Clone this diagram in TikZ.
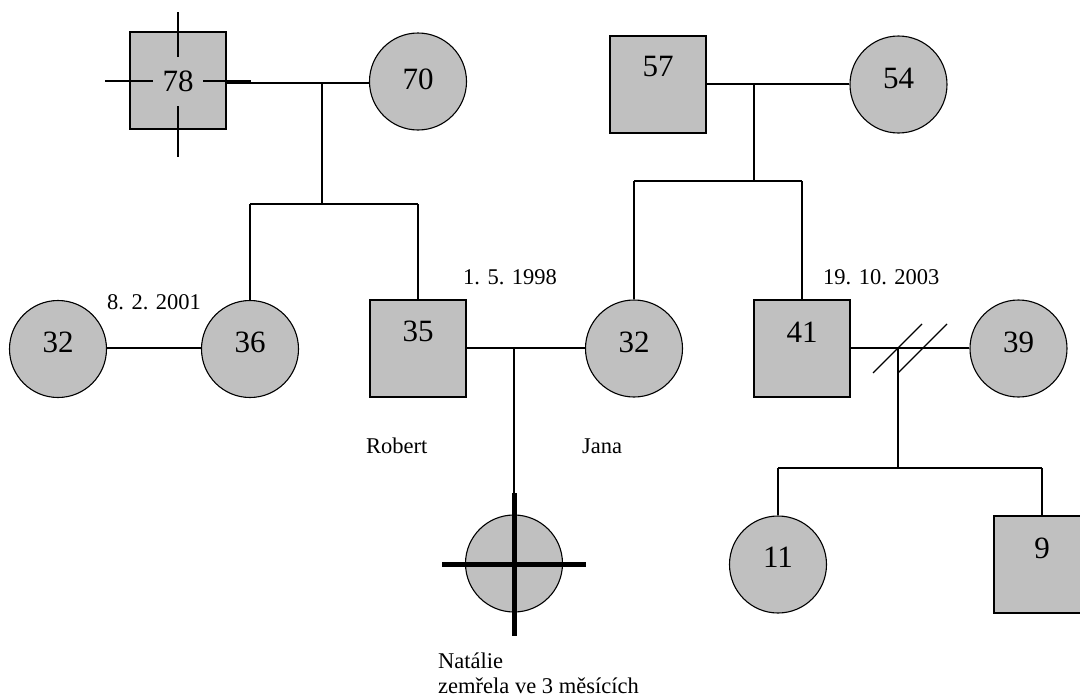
\documentclass[tikz,border=0pt]{standalone}
\usepackage{fontspec}
\setmainfont{Liberation Serif}
\definecolor{fillgray}{HTML}{C0C0C0}
\tikzset{
  sq/.style={draw=black, fill=fillgray, line width=1.1pt, minimum width=96pt, minimum height=97pt, inner sep=0pt},
  ci/.style={draw=black, fill=fillgray, circle, line width=1.1pt, minimum size=97pt, inner sep=0pt},
  num/.style={inner sep=0pt, font=\fontsize{31}{31}\selectfont},
  lbl/.style={inner sep=0pt, font=\fontsize{22.5}{25}\selectfont},
  ln/.style={line width=1.1pt},
  thick cross/.style={line width=5pt}
}
\begin{document}
\begin{tikzpicture}[x=1pt,y=-1pt]
\useasboundingbox (0,0) rectangle (1080,699);
\fill[white] (0,0) rectangle (1080,699);

% ---------- generation 1 ----------
\node[sq] (s78) at (178,80.5) {};
\draw[ln] (178,12) -- (178,157);
\draw[ln] (105,81) -- (251,81);
\node[num, fill=fillgray, minimum width=50pt, minimum height=49pt] (t78) at (178,81) {78};
\node[ci] (c70) at (418,81.5) {};
\node[num] (t70) at (418,79) {70};

\node[sq] (s57) at (658,84.5) {};
\node[num] (t57) at (658,67) {57};
\node[ci] (c54) at (898.5,84.5) {};
\node[num] (t54) at (898.5,78) {54};

% ---------- generation 2 ----------
\node[ci] (c32a) at (58,349) {};
\node[num] (t32a) at (58,342) {32};
\node[ci] (c36) at (250,349) {};
\node[num] (t36) at (250,342) {36};
\node[sq] (s35) at (418,348.5) {};
\node[num] (t35) at (418,331) {35};
\node[ci] (c32b) at (634,348.5) {};
\node[num] (t32b) at (634,342) {32};
\node[sq] (s41) at (802,348.5) {};
\node[num] (t41) at (802,332) {41};
\node[ci] (c39) at (1018.5,348.5) {};
\node[num] (t39) at (1018.5,342) {39};

% ---------- generation 3 ----------
\node[ci] (cN) at (514,563.5) {};
\node[ci] (c11) at (778,564.5) {};
\node[num] (t11) at (778,557) {11};
\node[sq] (s9) at (1042,564.5) {};
\node[num] (t9) at (1042,548) {9};

% ---------- connectors ----------
\coordinate (m1) at (322,83);
\coordinate (b1) at (322,204);
\coordinate (b1l) at (250,204);
\coordinate (b1r) at (418,204);
\draw[ln] (s78.east |- m1) -- (c70.west |- m1);
\draw[ln] (m1) -- (b1);
\draw[ln] (b1l) -- (b1r);
\draw[ln] (b1l) -- (c36.north);
\draw[ln] (b1r) -- (s35.north);

\coordinate (m2) at (754,84);
\coordinate (b2) at (754,181);
\coordinate (b2l) at (634,181);
\coordinate (b2r) at (802,181);
\draw[ln] (s57.east |- m2) -- (c54.west |- m2);
\draw[ln] (m2) -- (b2);
\draw[ln] (b2l) -- (b2r);
\draw[ln] (b2l) -- (c32b.north);
\draw[ln] (b2r) -- (s41.north);

\draw[ln] (c32a.east |- 0,348) -- (c36.west |- 0,348);

\coordinate (m3) at (514,348);
\draw[ln] (s35.east |- m3) -- (c32b.west |- m3);
\draw[ln] (m3) -- (cN.north);
\draw[thick cross] (514,493) -- (514,636);
\draw[thick cross] (442,564) -- (586,564);

\coordinate (m4) at (898,348);
\coordinate (b4) at (898,468);
\coordinate (b4l) at (778,468);
\coordinate (b4r) at (1042,468);
\draw[ln] (s41.east |- m4) -- (c39.west |- m4);
\draw[ln] (873,373) -- (922,324);
\draw[ln] (898,373) -- (947,324);
\draw[ln] (m4) -- (b4);
\draw[ln] (b4l) -- (b4r);
\draw[ln] (b4l) -- (c11.north);
\draw[ln] (b4r) -- (s9.north);

% ---------- labels ----------
\node[lbl, anchor=west] (d1) at (107,302) {8. 2. 2001};
\node[lbl, anchor=west] (d2) at (463,277) {1. 5. 1998};
\node[lbl, anchor=west] (d3) at (823,277) {19. 10. 2003};
\node[lbl, anchor=base west] (nR) at (366,453) {Robert};
\node[lbl, anchor=base west] (nJ) at (582,453) {Jana};
\node[lbl, anchor=base west] (nN1) at (438,668) {Natálie};
\node[lbl, anchor=base west] (nN2) at (438,693) {zemřela ve 3 měsících};
\end{tikzpicture}
\end{document}
